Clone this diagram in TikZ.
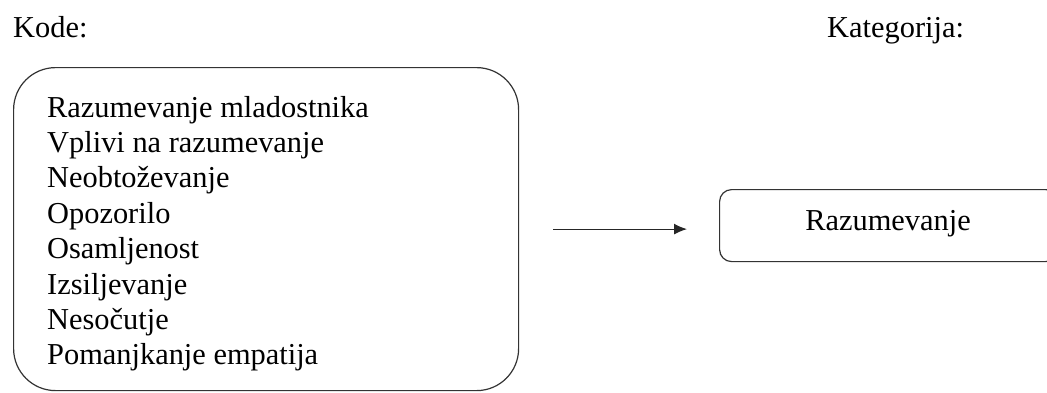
\documentclass[tikz,border=0pt]{standalone}
\usepackage{fontspec}
\setmainfont{Liberation Serif}
\usetikzlibrary{arrows.meta}
\begin{document}
\begin{tikzpicture}[x=1pt,y=-1pt,
  frame/.style={draw=black!80, line width=1.2pt},
  label/.style={inner sep=0pt, anchor=base west, font=\fontsize{30.4}{35.4}\selectfont},
  link/.style={draw=black!85, line width=1.2pt, -{Latex[length=13pt,width=11pt]}}]
\useasboundingbox (0,0) rectangle (1047,392);
% headings
\node[label] (kode) at (13,37) {Kode:};
\node[label] (kat) at (827,37) {Kategorija:};
% box with the codes
\node[frame, rounded corners=42pt, minimum width=505pt, minimum height=323pt,
      anchor=north west, inner sep=0pt] (codes) at (13,67) {};
\foreach \t [count=\i from 0] in {Razumevanje mladostnika, Vplivi na razumevanje,
    Neobtoževanje, Opozorilo, Osamljenost, Izsiljevanje, Nesočutje,
    Pomanjkanje empatija}
  \node[label] (c\i) at (47,117+35.4*\i) {\t};
% category box
\node[frame, rounded corners=12pt, minimum width=338pt, minimum height=72pt,
      anchor=north west, inner sep=0pt] (cat) at (719,189) {};
\node[label, anchor=base] (catname) at (888,230) {Razumevanje};
% arrow from codes to category
\draw[link, shorten <=34pt, shorten >=32pt] (codes.east) -- (codes.east -| cat.west);
\end{tikzpicture}
\end{document}
